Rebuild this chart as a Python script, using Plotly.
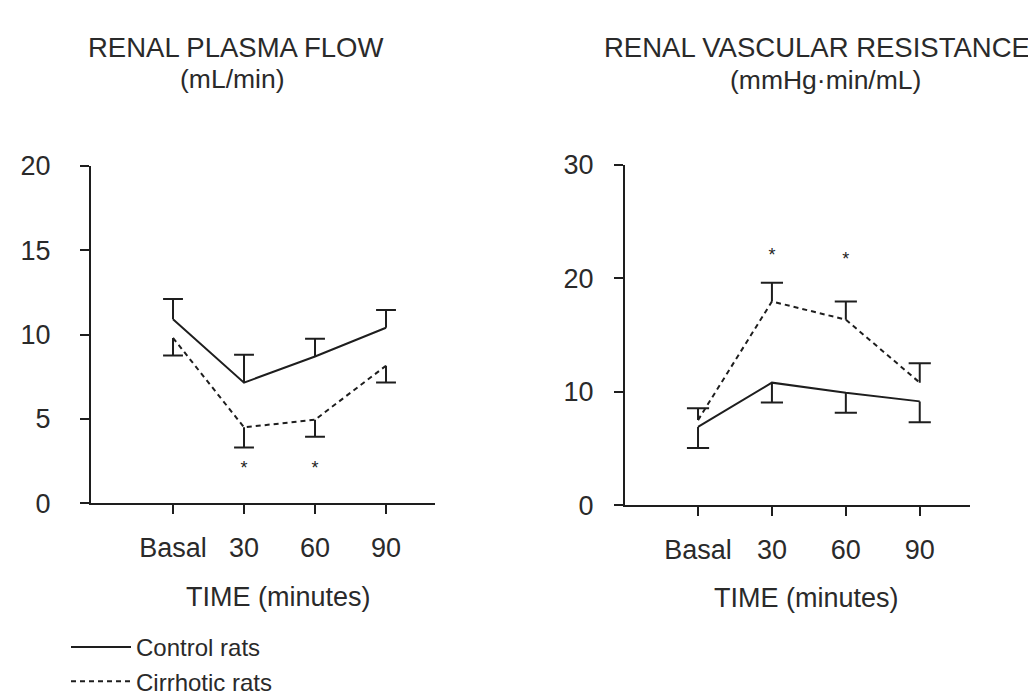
import plotly.graph_objects as go

# ---------------- data ----------------
categories = ["Basal", "30", "60", "90"]

rpf_control = [10.9, 7.15, 8.7, 10.4]
rpf_control_se = [1.2, 1.65, 1.05, 1.05]
rpf_cirrhotic = [9.8, 4.5, 4.95, 8.15]
rpf_cirrhotic_se = [1.05, 1.2, 1.0, 1.0]
rpf_star_idx = [1, 2]
rpf_star_y = [2.0, 2.0]

rvr_control = [6.9, 10.8, 9.9, 9.15]
rvr_control_se = [1.85, 1.75, 1.75, 1.85]
rvr_cirrhotic = [7.5, 17.95, 16.35, 10.8]
rvr_cirrhotic_se = [1.05, 1.65, 1.6, 1.7]
rvr_star_idx = [1, 2]
rvr_star_y = [21.9, 21.6]

rpf_yticks = [0, 5, 10, 15, 20]
rvr_yticks = [0, 10, 20, 30]

# ---------------- styling ----------------
W, H = 1036, 696
FONT = "Liberation Sans, Arial, Helvetica, sans-serif"
INK = "#1e1e1e"
TXT = "#2a2a2a"
x_idx = list(range(len(categories)))


def px_x(p):
    return p / W


def px_y(p):
    return 1 - p / H


def err_path(xs, ys, se, direction, half):
    ex, ey = [], []
    for x, y, s in zip(xs, ys, se):
        top = y + direction * s
        ex += [x, x, None, x - half, x + half, None]
        ey += [y, top, None, top, top, None]
    return ex, ey


fig = go.Figure()

panels = [
    dict(xa="x", ya="y", ctrl=rpf_control, ctrl_se=rpf_control_se, ctrl_dir=1,
         cirr=rpf_cirrhotic, cirr_se=rpf_cirrhotic_se, cirr_dir=-1,
         star_idx=rpf_star_idx, star_y=rpf_star_y, legend=True, half=0.14),
    dict(xa="x2", ya="y2", ctrl=rvr_control, ctrl_se=rvr_control_se, ctrl_dir=-1,
         cirr=rvr_cirrhotic, cirr_se=rvr_cirrhotic_se, cirr_dir=1,
         star_idx=rvr_star_idx, star_y=rvr_star_y, legend=False, half=0.15),
]

for p in panels:
    # one-sided error bars (stem + cap)
    for vals, se, d in [(p["ctrl"], p["ctrl_se"], p["ctrl_dir"]),
                        (p["cirr"], p["cirr_se"], p["cirr_dir"])]:
        ex, ey = err_path(x_idx, vals, se, d, p["half"])
        fig.add_trace(go.Scatter(x=ex, y=ey, mode="lines", xaxis=p["xa"], yaxis=p["ya"],
                                 line=dict(color=INK, width=2), showlegend=False,
                                 hoverinfo="skip"))
    fig.add_trace(go.Scatter(x=x_idx, y=p["ctrl"], mode="lines", name="Control rats",
                             xaxis=p["xa"], yaxis=p["ya"],
                             line=dict(color=INK, width=2),
                             showlegend=p["legend"]))
    fig.add_trace(go.Scatter(x=x_idx, y=p["cirr"], mode="lines", name="Cirrhotic rats",
                             xaxis=p["xa"], yaxis=p["ya"],
                             line=dict(color=INK, width=2, dash="5px,4px"),
                             showlegend=p["legend"]))
    fig.add_trace(go.Scatter(x=p["star_idx"], y=p["star_y"], mode="text",
                             text=["*"] * len(p["star_idx"]),
                             textfont=dict(size=18, color=INK, family=FONT),
                             xaxis=p["xa"], yaxis=p["ya"], showlegend=False, hoverinfo="skip"))

axis_common = dict(showline=True, linecolor=INK, linewidth=2, ticks="outside", ticklen=9,
                   tickwidth=2, tickcolor=INK, showgrid=False, zeroline=False,
                   tickfont=dict(family=FONT, size=27, color=TXT))

fig.update_layout(
    width=W, height=H,
    margin=dict(l=0, r=0, t=0, b=0),
    paper_bgcolor="white", plot_bgcolor="white",
    font=dict(family=FONT, color=TXT),
    xaxis=dict(domain=[px_x(83), px_x(427)], range=[-1.155, 3.69], anchor="y",
               tickvals=x_idx, ticktext=categories, ticklabelstandoff=10, **axis_common),
    yaxis=dict(domain=[px_y(505), px_y(150)], range=[0, 20], anchor="x",
               tickvals=rpf_yticks, ticklabelstandoff=24, **axis_common),
    xaxis2=dict(domain=[px_x(617), px_x(962)], range=[-0.988, 3.68], anchor="y2",
                tickvals=x_idx, ticktext=categories, ticklabelstandoff=10, **axis_common),
    yaxis2=dict(domain=[px_y(507), px_y(149)], range=[0, 30], anchor="x2",
                tickvals=rvr_yticks, ticklabelstandoff=15, **axis_common),
    legend=dict(x=px_x(58), y=px_y(633), xanchor="left", yanchor="top",
                font=dict(family=FONT, size=24, color=TXT), bgcolor="rgba(0,0,0,0)",
                tracegroupgap=0, itemwidth=60),
    showlegend=True,
)

annots = [
    ("RENAL PLASMA FLOW", 227, 26, 27.5),
    ("(mL/min)", 224, 59, 26.5),
    ("RENAL VASCULAR RESISTANCE", 809, 26, 27.5),
    ("(mmHg·min/mL)", 817, 60, 26.5),
    ("TIME (minutes)", 270, 603, 27),
    ("TIME (minutes)", 798, 605, 27),
]
for text, x, y, s in annots:
    fig.add_annotation(text=text, x=px_x(x), y=px_y(y), xref="paper", yref="paper",
                       xanchor="center", yanchor="middle", showarrow=False,
                       font=dict(family=FONT, size=s, color=TXT))

fig.write_html("out.html")
